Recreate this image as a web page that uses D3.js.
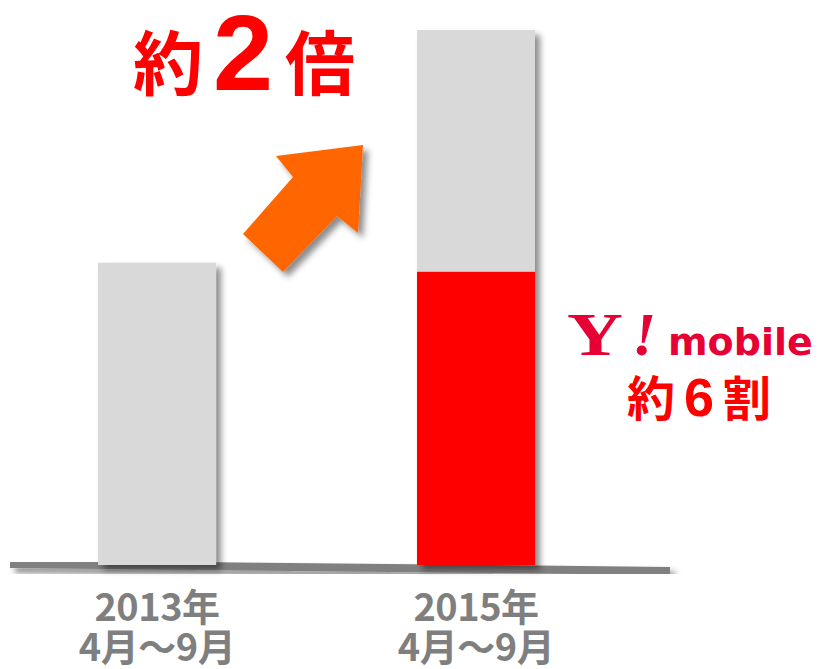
<!DOCTYPE html>
<html>
<head>
<meta charset="utf-8">
<script src="https://cdn.jsdelivr.net/npm/d3@7"></script>
<style>
  body { margin: 0; background: #fff; }
  svg { font-family: "Noto Sans CJK JP", "Noto Sans", sans-serif; font-weight: 700; }
</style>
</head>
<body>
<div id="chart"></div>
<script>
// data (2013 = 100)
const periods = ["2013年|4月～9月", "2015年|4月～9月"];
const totals = [100, 177];
const ymobileShare = [0, 97];

const width = 827, height = 669;
const baseY = 565;

const svg = d3.select("#chart").append("svg")
  .attr("width", width).attr("height", height);

// drop shadow like the slide
const defs = svg.append("defs");
defs.append("filter").attr("id", "shadow")
  .attr("x", "-20%").attr("y", "-20%").attr("width", "150%").attr("height", "150%")
  .append("feDropShadow")
    .attr("dx", 5).attr("dy", 5).attr("stdDeviation", 3)
    .attr("flood-color", "#000").attr("flood-opacity", 0.45);

const x = d3.scaleBand()
  .domain(periods)
  .range([98, 535])
  .paddingInner(0.63)
  .paddingOuter(0);

const y = d3.scaleLinear()
  .domain([0, 177])
  .range([baseY, 30]);

// baseline (slightly tilted, as in the original)
svg.append("line")
  .attr("x1", 10).attr("y1", 564)
  .attr("x2", 670).attr("y2", 571)
  .attr("stroke", "#808080").attr("stroke-width", 8)
  .attr("filter", "url(#shadow)");

// grey total bars
svg.selectAll(".bar")
  .data(periods)
  .enter().append("rect")
  .attr("class", "bar")
  .attr("x", d => x(d))
  .attr("width", x.bandwidth())
  .attr("y", (d, i) => y(totals[i]))
  .attr("height", (d, i) => baseY - y(totals[i]))
  .attr("fill", "#d9d9d9")
  .attr("filter", "url(#shadow)");

// Y!mobile share
svg.selectAll(".share")
  .data(periods.filter((d, i) => ymobileShare[i] > 0))
  .enter().append("rect")
  .attr("class", "share")
  .attr("x", d => x(d))
  .attr("width", x.bandwidth())
  .attr("y", d => y(ymobileShare[periods.indexOf(d)]))
  .attr("height", d => baseY - y(ymobileShare[periods.indexOf(d)]))
  .attr("fill", "#ff0000");

// category labels
periods.forEach(p => {
  const cx = x(p) + x.bandwidth() / 2;
  p.split("|").forEach((line, k) => {
    svg.append("text")
      .attr("x", cx).attr("y", 621 + k * 40)
      .attr("text-anchor", "middle")
      .attr("font-size", 38)
      .attr("letter-spacing", -0.5)
      .attr("fill", "#7f7f7f")
      .text(line);
  });
});

// orange arrow
const arrow = [[363,145],[276,156],[293,177],[243,234],[283,272],[337,216],[358,233]];
svg.append("polygon")
  .attr("points", arrow.map(p => p.join(",")).join(" "))
  .attr("fill", "#ff6600")
  .attr("filter", "url(#shadow)");

// "約2倍"
const t2 = svg.append("text").attr("x", 133).attr("y", 90).attr("fill", "#ff0000");
t2.append("tspan").attr("font-size", 70).text("約");
t2.append("tspan").attr("dx", 10).attr("font-size", 108)
  .attr("font-family", "Arial, 'Liberation Sans', sans-serif").attr("font-weight", 900).text("2");
t2.append("tspan").attr("dx", 12).attr("font-size", 70).text("倍");

// Y!mobile logo
const red = "#e60033";
svg.append("text")
  .attr("transform", "translate(567,355) scale(1.25,1)")
  .attr("font-family", "'Liberation Serif', 'DejaVu Serif', serif")
  .attr("font-size", 62).attr("fill", red).text("Y");
svg.append("text")
  .attr("x", 632).attr("y", 355)
  .attr("font-family", "'Liberation Serif', 'DejaVu Serif', serif")
  .attr("font-style", "italic").attr("font-size", 62).attr("fill", red).text("!");
svg.append("text")
  .attr("x", 668).attr("y", 355)
  .attr("font-family", "'DejaVu Sans', Verdana, sans-serif")
  .attr("font-size", 38).attr("fill", red).text("mobile");

// "約6割"
const t6 = svg.append("text").attr("x", 627).attr("y", 416).attr("fill", "#ff0000");
t6.append("tspan").attr("font-size", 48).text("約");
t6.append("tspan").attr("dx", 9).attr("font-size", 54)
  .attr("font-family", "Arial, 'Liberation Sans', sans-serif").text("6");
t6.append("tspan").attr("dx", 9).attr("font-size", 48).text("割");
</script>
</body>
</html>
